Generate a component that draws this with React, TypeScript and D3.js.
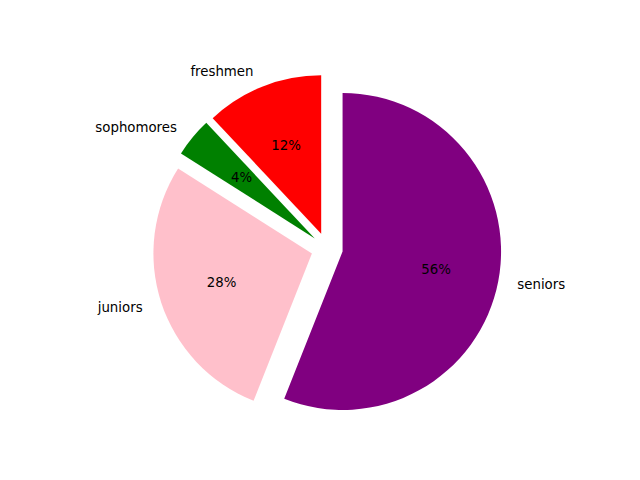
import React from "react";
import * as d3 from "d3";

const labels = ["freshmen", "sophomores", "juniors", "seniors"];
const values = [12, 4, 28, 56];
const colors = ["red", "green", "pink", "purple"];
const explode = [0.1, 0.1, 0.1, 0.1];

const width = 640;
const height = 480;
const cx = 327;
const cy = 248.5;
const radius = 158.5;
const labelPad = 3.5;

const App = () => {
  // matplotlib draws counterclockwise from 12 o'clock
  const pie = d3
    .pie<number>()
    .sort(null)
    .startAngle(0)
    .endAngle(-2 * Math.PI);
  const arcs = pie(values);
  const arc = d3.arc<d3.PieArcDatum<number>>().innerRadius(0).outerRadius(radius);
  const total = d3.sum(values);

  return (
    <svg
      width={width}
      height={height}
      style={{ position: "absolute", left: 0, top: 0, background: "white" }}
      fontFamily="DejaVu Sans, sans-serif"
      fontSize={13.33}
    >
      {arcs.map((a, i) => {
        const mid = (a.startAngle + a.endAngle) / 2;
        const dx = Math.sin(mid);
        const dy = -Math.cos(mid);
        const ox = cx + explode[i] * radius * dx;
        const oy = cy + explode[i] * radius * dy;
        const lx = 1.1 * radius * dx;
        const ly = 1.1 * radius * dy;
        const px = 0.6 * radius * dx;
        const py = 0.6 * radius * dy;
        const pct = Math.round((values[i] / total) * 100);
        return (
          <g key={labels[i]} transform={`translate(${ox},${oy})`}>
            <path d={arc(a) || ""} fill={colors[i]} />
            <text
              x={lx + (lx > 0 ? labelPad : -labelPad)}
              y={ly}
              textAnchor={lx > 0 ? "start" : "end"}
              dominantBaseline="central"
            >
              {labels[i]}
            </text>
            <text x={px} y={py} textAnchor="middle" dominantBaseline="central">
              {pct}%
            </text>
          </g>
        );
      })}
    </svg>
  );
};

export default App;
